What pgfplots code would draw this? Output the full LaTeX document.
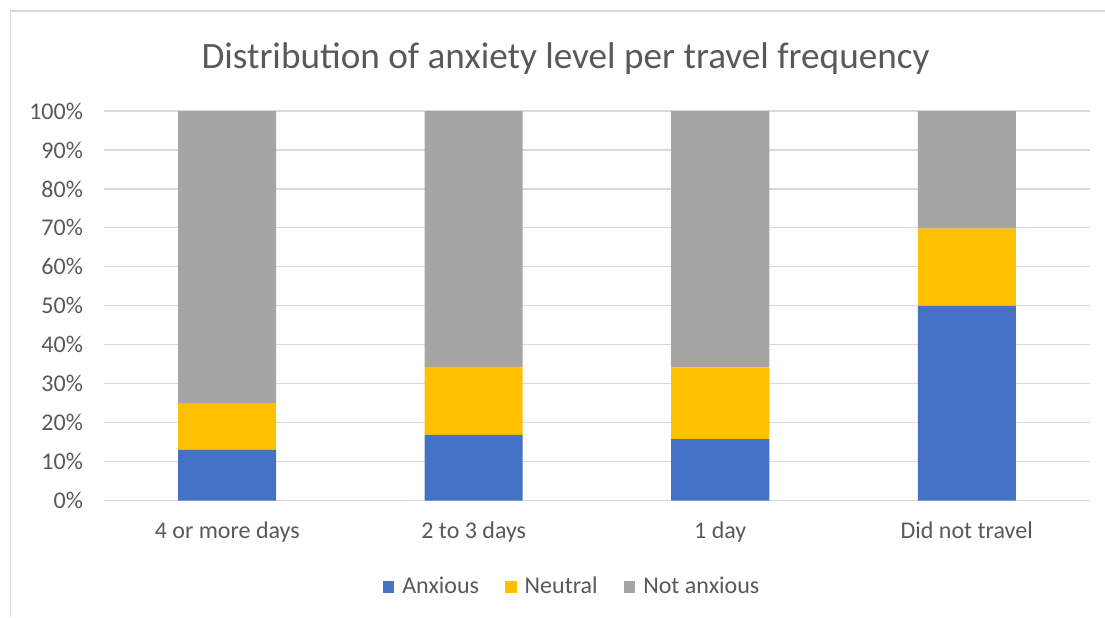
\documentclass[border=0pt]{standalone}
\usepackage{pgfplots}
\pgfplotsset{compat=1.18}
\usepackage{fontspec}
\setmainfont{Carlito}

\definecolor{anxblue}{HTML}{4472C4}
\definecolor{neuyellow}{HTML}{FFC000}
\definecolor{notgray}{HTML}{A5A5A5}
\definecolor{txtgray}{HTML}{595959}
\definecolor{gridgray}{HTML}{D9D9D9}

\begin{document}
\begin{tikzpicture}
% frame of the picture: 1105x617 px at 0.5pt per px, axis box starts at (104,500.6)
\path[use as bounding box] (-52pt,-58.2pt) rectangle (500.5pt,250.3pt);
\draw[gridgray, line width=0.7pt] (-46.75pt,-58.2pt) -- (-46.75pt,244.8pt) -- (500.5pt,244.8pt);
\begin{axis}[
    at={(0,0)}, anchor=south west,
    scale only axis,
    width=493pt, height=194.8pt,
    ybar stacked,
    bar width=49pt,
    xmin=-0.5, xmax=3.5,
    ymin=0, ymax=100,
    xtick=data,
    xticklabels={4 or more days, 2 to 3 days, 1 day, Did not travel},
    ytick={0,10,...,100},
    yticklabel={\pgfmathprintnumber{\tick}\%},
    /pgf/number format/assume math mode=true,
    ymajorgrids,
    grid style={gridgray, line width=0.6pt},
    axis line style={draw=none},
    major tick length=0pt,
    tick label style={font=\fontsize{12}{14}\selectfont, text=txtgray},
    yticklabel style={xshift=-7pt},
    xticklabel style={yshift=-7pt},
    title={Distribution of anxiety level per travel frequency},
    title style={at={(0.5,1)}, anchor=center, yshift=20.3pt, xshift=-15.75pt,
        font=\fontsize{18.6}{22}\selectfont, text=txtgray},
    legend style={at={(0.5,0)}, anchor=center, yshift=-43.2pt, xshift=-12pt,
        draw=none, font=\fontsize{12}{14}\selectfont, text=txtgray,
        legend columns=-1,
        /tikz/every odd column/.append style={column sep=2pt},
        /tikz/every even column/.append style={column sep=11pt}},
    legend image code/.code={\fill[#1] (0pt,-2.8pt) rectangle (5.8pt,3pt);},
]
\addplot[fill=anxblue, draw=none] coordinates {(0,13.1) (1,16.9) (2,15.8) (3,50.0)};
\addlegendentry{Anxious}
\addplot[fill=neuyellow, draw=none] coordinates {(0,11.9) (1,17.4) (2,18.4) (3,19.8)};
\addlegendentry{Neutral}
\addplot[fill=notgray, draw=none] coordinates {(0,75.0) (1,65.7) (2,65.8) (3,30.2)};
\addlegendentry{Not anxious}
\end{axis}
\end{tikzpicture}
\end{document}
